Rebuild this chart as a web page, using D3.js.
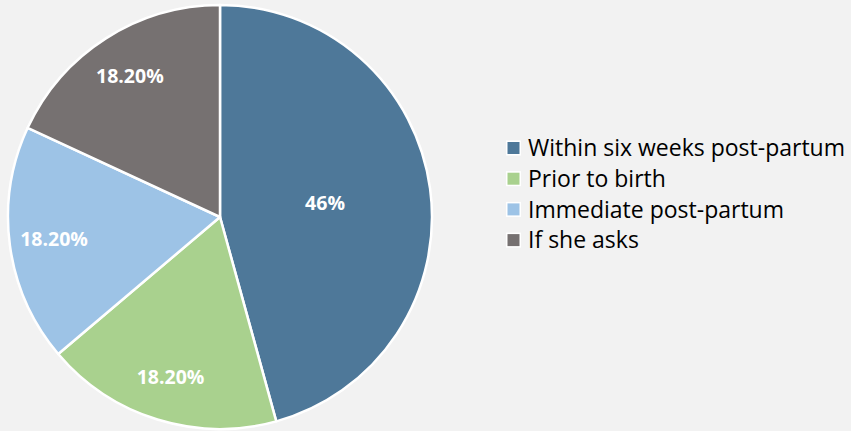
<!DOCTYPE html>
<html><head><meta charset="utf-8">
<script src="https://cdn.jsdelivr.net/npm/d3@7"></script>
<style>html,body{margin:0;padding:0;background:#f2f2f2;}svg{display:block;}</style>
</head><body>
<svg id="c" width="851" height="431"></svg>
<script>
const categories = ["Within six weeks post-partum", "Prior to birth", "Immediate post-partum", "If she asks"];
const values = [46, 18.2, 18.2, 18.2];
const labels = ["46%", "18.20%", "18.20%", "18.20%"];
const colors = ["#4e7899", "#a9d18e", "#9dc3e6", "#767171"];

const svg = d3.select("#c");
const cx = 220, cy = 217, R = 212;
const g = svg.append("g").attr("transform", `translate(${cx},${cy})`);
const pie = d3.pie().sort(null).value(d => d)(values);
const arc = d3.arc().innerRadius(0).outerRadius(R);
g.selectAll("path").data(pie).join("path")
  .attr("d", arc).attr("fill", (d,i) => colors[i])
  .attr("stroke", "#fff").attr("stroke-width", 2.5).attr("stroke-linejoin","round");
g.selectAll("text").data(pie).join("text")
  .attr("transform", d => {
    const frac = (d.endAngle - d.startAngle) > Math.PI/2 ? 0.5 : 0.79;
    const a = d3.arc().innerRadius(R*frac).outerRadius(R*frac);
    const [x,y] = a.centroid(d);
    return `translate(${x},${y})`;
  })
  .attr("text-anchor","middle").attr("dy","0.36em")
  .attr("fill","#fff").attr("font-family","'Open Sans', sans-serif")
  .attr("font-weight","bold").attr("font-size",19.5)
  .text((d,i) => labels[i]);

const lg = svg.append("g").attr("transform","translate(506,148)");
const rows = lg.selectAll("g").data(categories).join("g")
  .attr("transform",(d,i)=>`translate(0,${i*30.7})`);
rows.append("rect").attr("x",0).attr("y",-7.5).attr("width",15).attr("height",15).attr("fill","#fff");
rows.append("rect").attr("x",1.5).attr("y",-6).attr("width",12).attr("height",12).attr("fill",(d,i)=>colors[i]);
rows.append("text").attr("x",22).attr("dy","0.36em")
  .attr("font-family","'Open Sans', sans-serif").attr("font-size",23).attr("fill","#000")
  .text(d=>d);
</script>
</body></html>
